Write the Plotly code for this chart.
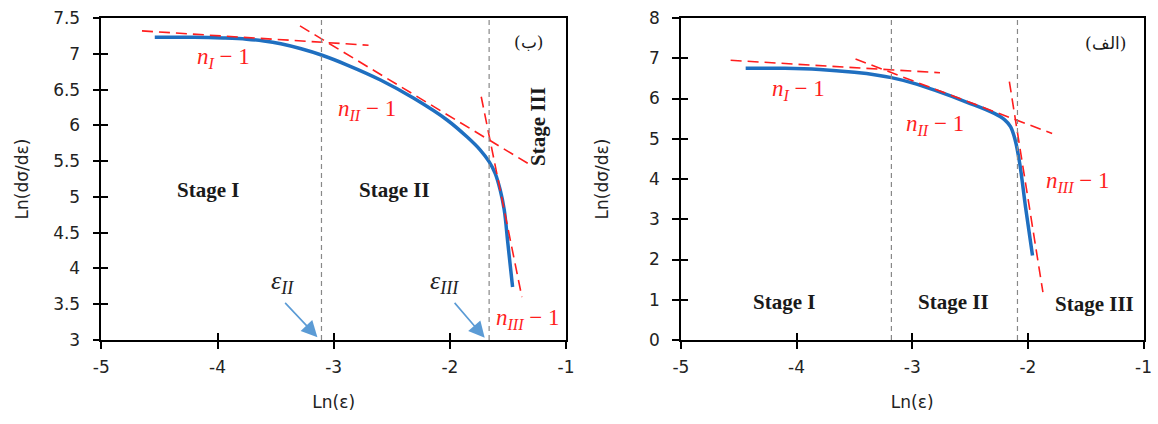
import plotly.graph_objects as go

# ---------------- data ----------------
# left panel (ب)
left_x = [-4.54, -4.2, -3.95, -3.75, -3.6, -3.455, -3.28, -3.106, -2.883, -2.597, -2.31, -2.024, -1.853,
          -1.738, -1.661, -1.61, -1.567, -1.532, -1.50, -1.46]
left_y = [7.23, 7.23, 7.22, 7.205, 7.18, 7.14, 7.07, 6.983, 6.843, 6.634, 6.378, 6.075, 5.84,
          5.655, 5.49, 5.33, 5.10, 4.82, 4.34, 3.74]
left_fit_I_x = [-4.65, -2.70]
left_fit_I_y = [7.32, 7.12]
left_fit_II_x = [-3.29, -1.33]
left_fit_II_y = [7.39, 5.47]
left_fit_III_x = [-1.73, -1.38]
left_fit_III_y = [6.40, 3.60]
left_bounds = [-3.105, -1.662]

# right panel (الف)
right_x = [-4.44, -4.1, -3.8, -3.5, -3.3, -3.18, -3.0, -2.8, -2.52, -2.29, -2.2, -2.15,
           -2.11, -2.07, -2.02, -1.96]
right_y = [6.75, 6.75, 6.72, 6.65, 6.58, 6.52, 6.39, 6.20, 5.90, 5.63, 5.47, 5.30,
           4.97, 4.38, 3.30, 2.10]
right_fit_I_x = [-4.57, -2.76]
right_fit_I_y = [6.95, 6.64]
right_fit_II_x = [-3.49, -1.79]
right_fit_II_y = [6.98, 5.13]
right_fit_III_x = [-2.16, -1.87]
right_fit_III_y = [6.42, 1.19]
right_bounds = [-3.18, -2.09]

x_ticks = [-5, -4, -3, -2, -1]
x_tick_text = ["-5", "-4", "-3", "-2", "-1"]

BLUE = "#1F6FC0"
RED = "#FF1E1E"
ARROW = "#5B9BD5"
TICKFONT = dict(family="DejaVu Sans", size=17, color="#222")

fig = go.Figure()

def add_panel(xs, ys, fits, xa, ya):
    fig.add_trace(go.Scatter(x=xs, y=ys, mode="lines", xaxis=xa, yaxis=ya,
                             line=dict(color=BLUE, width=3.5, shape="spline", smoothing=1.0),
                             showlegend=False, hoverinfo="skip"))
    for fx, fy in fits:
        fig.add_trace(go.Scatter(x=fx, y=fy, mode="lines", xaxis=xa, yaxis=ya,
                                 line=dict(color=RED, width=1.6, dash="11px,6px"),
                                 showlegend=False, hoverinfo="skip"))

add_panel(left_x, left_y, [(left_fit_I_x, left_fit_I_y), (left_fit_II_x, left_fit_II_y),
                           (left_fit_III_x, left_fit_III_y)], "x", "y")
add_panel(right_x, right_y, [(right_fit_I_x, right_fit_I_y), (right_fit_II_x, right_fit_II_y),
                             (right_fit_III_x, right_fit_III_y)], "x2", "y2")

# stage boundaries
for xv in left_bounds:
    fig.add_shape(type="line", xref="x", yref="y domain", x0=xv, x1=xv, y0=0, y1=1,
                  line=dict(color="#888", width=1.2, dash="5px,4px"))
for xv in right_bounds:
    fig.add_shape(type="line", xref="x2", yref="y2 domain", x0=xv, x1=xv, y0=0, y1=1,
                  line=dict(color="#888", width=1.2, dash="5px,4px"))

def txt(x, y, text, xr, yr, font, angle=0):
    fig.add_annotation(x=x, y=y, xref=xr, yref=yr, text=text, showarrow=False,
                       font=font, textangle=angle)

math_font = dict(family="Liberation Serif", size=23, color=RED)
stage_font = dict(family="Liberation Serif", size=21, color="#1a1a1a")
label_font = dict(family="DejaVu Serif", size=17, color="#1a1a1a")
eps_font = dict(family="Liberation Serif", size=26, color="#222")

nI = "<i>n</i><sub><i>I</i></sub> − 1"
nII = "<i>n</i><sub><i>II</i></sub> − 1"
nIII = "<i>n</i><sub><i>III</i></sub> − 1"

# left annotations
txt(-3.95, 6.94, nI, "x", "y", math_font)
txt(-2.71, 6.21, nII, "x", "y", math_font)
txt(-1.33, 3.30, nIII, "x", "y", math_font)
txt(-4.08, 5.10, "<b>Stage I</b>", "x", "y", stage_font)
txt(-2.48, 5.10, "<b>Stage II</b>", "x", "y", stage_font)
txt(-1.24, 5.98, "<b>Stage III</b>", "x", "y", stage_font, angle=-90)
txt(-1.32, 7.17, "(ب)", "x", "y", label_font)
txt(-3.44, 3.81, "<i>ε</i><sub><i>II</i></sub>", "x", "y", eps_font)
txt(-2.05, 3.81, "<i>ε</i><sub><i>III</i></sub>", "x", "y", eps_font)
for (tx, ty, hx, hy) in [(-3.43, 3.54, -3.14, 3.04), (-1.97, 3.54, -1.70, 3.03)]:
    fig.add_annotation(x=hx, y=hy, ax=tx, ay=ty, xref="x", yref="y", axref="x", ayref="y",
                       text="", showarrow=True, arrowhead=2, arrowsize=2.0, arrowwidth=1.6,
                       arrowcolor=ARROW)

# right annotations
txt(-3.98, 6.21, nI, "x2", "y2", math_font)
txt(-2.80, 5.34, nII, "x2", "y2", math_font)
txt(-1.57, 3.93, nIII, "x2", "y2", math_font)
txt(-4.11, 0.94, "<b>Stage I</b>", "x2", "y2", stage_font)
txt(-2.64, 0.94, "<b>Stage II</b>", "x2", "y2", stage_font)
txt(-1.42, 0.90, "<b>Stage III</b>", "x2", "y2", stage_font)
txt(-1.33, 7.37, "(الف)", "x2", "y2", label_font)

axis_common = dict(showline=True, linecolor="black", linewidth=1.5, mirror=True,
                   ticks="outside", ticklen=7, tickwidth=1.5, tickcolor="black",
                   showgrid=False, zeroline=False, tickfont=TICKFONT, automargin=False)
title_font = dict(family="DejaVu Sans", size=17, color="#222")

ydom = [0.1981, 0.9575]
xdom_l = [0.0875, 0.4888]
xdom_r = [0.5880, 0.9875]
fig.update_layout(
    width=1158, height=424, margin=dict(l=0, r=0, t=0, b=0),
    paper_bgcolor="white", plot_bgcolor="white", showlegend=False,
    xaxis=dict(domain=xdom_l, range=[-5, -1], tickvals=x_ticks, ticktext=x_tick_text, anchor="y",
               ticklabelstandoff=4,
               title=dict(text="Ln(ε)", font=title_font, standoff=20), **axis_common),
    yaxis=dict(domain=ydom, range=[3, 7.5], dtick=0.5, anchor="x", ticklabelstandoff=9,
               title=dict(text="Ln(dσ/dε)", font=title_font, standoff=20), **axis_common),
    xaxis2=dict(domain=xdom_r, range=[-5, -1], tickvals=x_ticks, ticktext=x_tick_text, anchor="y2",
                ticklabelstandoff=4,
                title=dict(text="Ln(ε)", font=title_font, standoff=20), **axis_common),
    yaxis2=dict(domain=ydom, range=[0, 8], dtick=1, anchor="x2", ticklabelstandoff=9,
                title=dict(text="Ln(dσ/dε)", font=title_font, standoff=36), **axis_common),
)

# inner half of cross ticks
inner = dict(ticks="inside", ticklen=7, tickwidth=1.5, tickcolor="black", showticklabels=False,
             showline=False, showgrid=False, zeroline=False, automargin=False)
fig.update_layout(
    xaxis3=dict(overlaying="x", anchor="y3", domain=xdom_l, range=[-5, -1], tickvals=x_ticks, **inner),
    yaxis3=dict(overlaying="y", anchor="x3", domain=ydom, range=[3, 7.5], dtick=0.5, **inner),
    xaxis4=dict(overlaying="x2", anchor="y4", domain=xdom_r, range=[-5, -1], tickvals=x_ticks, **inner),
    yaxis4=dict(overlaying="y2", anchor="x4", domain=ydom, range=[0, 8], dtick=1, **inner),
)
fig.add_trace(go.Scatter(x=[], y=[], xaxis="x3", yaxis="y3", showlegend=False))
fig.add_trace(go.Scatter(x=[], y=[], xaxis="x4", yaxis="y4", showlegend=False))

fig.write_html("out.html")
